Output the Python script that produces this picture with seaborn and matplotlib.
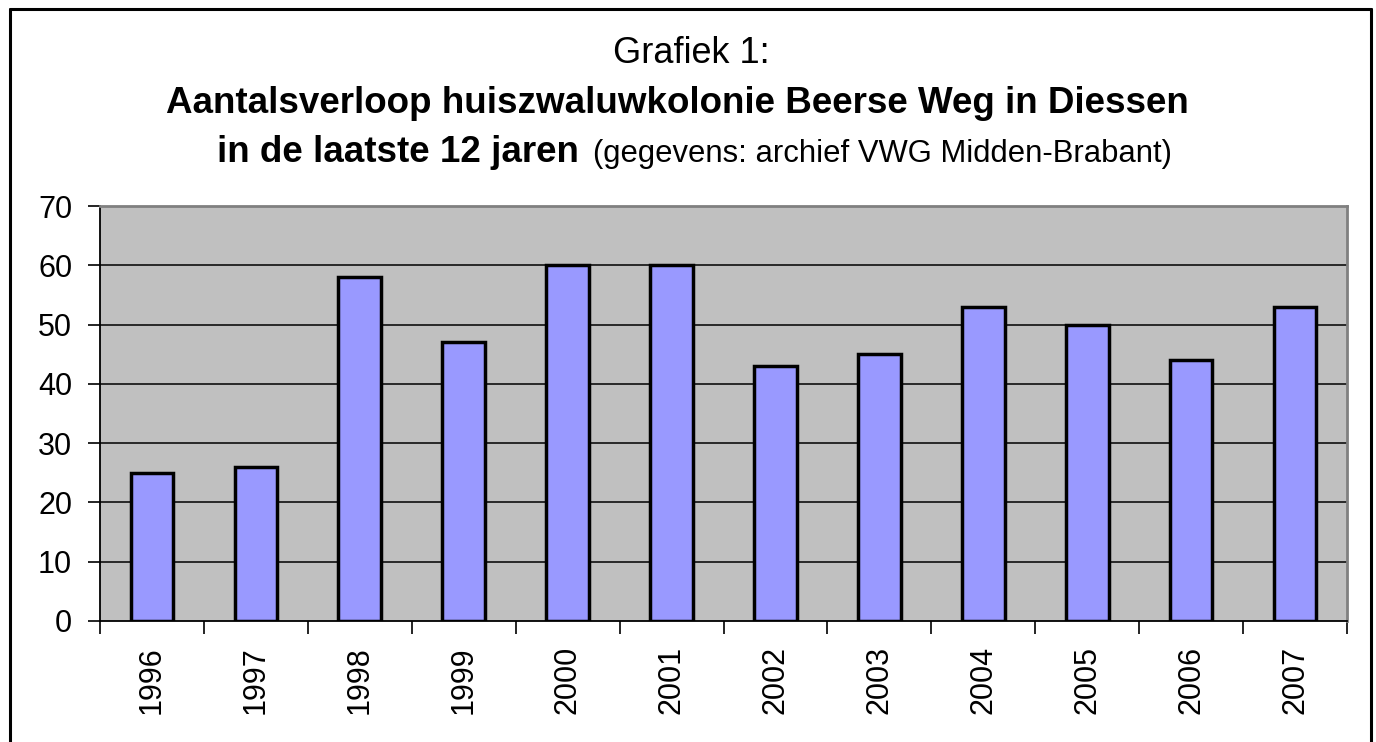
import matplotlib
matplotlib.use("Agg")
import matplotlib.pyplot as plt
import seaborn as sns
import pandas as pd
from matplotlib.lines import Line2D
from matplotlib.ticker import FixedLocator

years = ["1996", "1997", "1998", "1999", "2000", "2001", "2002", "2003", "2004", "2005", "2006", "2007"]
counts = [25, 26, 58, 47, 60, 60, 43, 45, 53, 50, 44, 53]
yticks = [0, 10, 20, 30, 40, 50, 60, 70]

sns.set_style("white")
plt.rcParams['font.family'] = ['Liberation Sans', 'DejaVu Sans']
plt.rcParams['text.color'] = 'black'
plt.rcParams['xtick.color'] = 'black'
plt.rcParams['ytick.color'] = 'black'
plt.rcParams['xtick.labelcolor'] = 'black'
plt.rcParams['ytick.labelcolor'] = 'black'

W, H = 1376, 742
fig = plt.figure(figsize=(W / 100, H / 100), dpi=100)
ax = fig.add_axes([100 / W, 1 - 621 / H, (1347 - 100) / W, (621 - 206) / H])
ax.set_facecolor('#C0C0C0')

df = pd.DataFrame({"year": years, "count": counts})
sns.barplot(data=df, x="year", y="count", color="#9999FF", edgecolor="black",
            linewidth=2.5, width=0.41, saturation=1, ax=ax, zorder=3)

ax.set_ylim(0, 70)
ax.set_xlim(-0.5, len(years) - 0.5)
ax.set_yticks(yticks)
ax.set_yticklabels([str(v) for v in yticks])
for v in yticks[1:-1]:
    ax.axhline(v, color='black', linewidth=1.1, zorder=1)

ax.set_xlabel("")
ax.set_ylabel("")
ax.tick_params(axis='y', which='major', length=9, width=1.2, colors='black',
               labelsize=22, pad=11, left=True)
ax.tick_params(axis='x', which='major', length=0, labelsize=22, pad=18, labelrotation=90,
               colors='black')
ax.xaxis.set_minor_locator(FixedLocator([i - 0.5 for i in range(len(years) + 1)]))
ax.tick_params(axis='x', which='minor', length=9, width=1.2, color='black', bottom=True)

for s in ['top', 'right']:
    ax.spines[s].set_color('#808080')
    ax.spines[s].set_linewidth(2)
for s in ['left', 'bottom']:
    ax.spines[s].set_color('black')
    ax.spines[s].set_linewidth(1.3)

# figure frame (open at bottom)
lw = 2.2
fig.add_artist(Line2D([9.5 / W, 9.5 / W], [0, 1 - 9 / H], color='black', linewidth=lw, transform=fig.transFigure))
fig.add_artist(Line2D([1371 / W, 1371 / W], [0, 1 - 9 / H], color='black', linewidth=lw, transform=fig.transFigure))
fig.add_artist(Line2D([9.5 / W, 1371 / W], [1 - 9 / H, 1 - 9 / H], color='black', linewidth=lw, transform=fig.transFigure))

# titles
fig.text(691 / W, 1 - 63 / H, "Grafiek 1:", ha='center', va='baseline', fontsize=26)
fig.text(677 / W, 1 - 113 / H, "Aantalsverloop huiszwaluwkolonie Beerse Weg in Diessen",
         ha='center', va='baseline', fontsize=26.5, fontweight='bold')
fig.text(579 / W, 1 - 162 / H, "in de laatste 12 jaren", ha='right', va='baseline',
         fontsize=26.5, fontweight='bold')
fig.text(593 / W, 1 - 162 / H, "(gegevens: archief VWG Midden-Brabant)", ha='left', va='baseline',
         fontsize=22.3)

fig.savefig("out.png", dpi=100)
